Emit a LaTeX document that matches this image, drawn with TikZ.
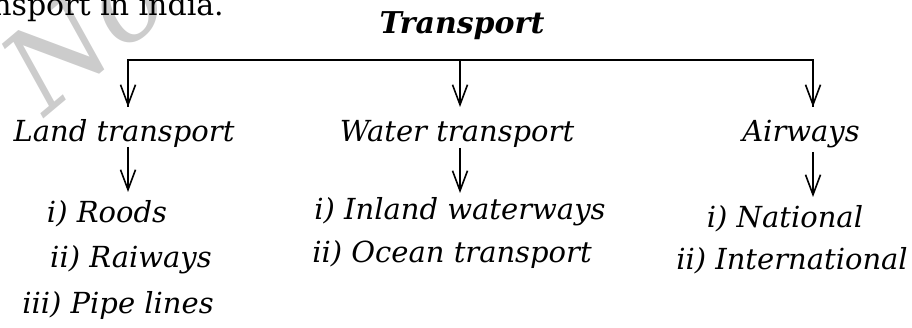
\documentclass[tikz,border=0pt]{standalone}
\usepackage{fontspec}
\usetikzlibrary{arrows.meta}
\setmainfont{DejaVu Serif}
\begin{document}
\begin{tikzpicture}[x=1pt,y=-1pt,
  lbl/.style={font=\fontsize{29}{32}\selectfont\itshape, inner sep=0pt, anchor=base},
  conn/.style={line width=1.6pt},
  vee/.style={line width=1.6pt, -{Straight Barb[length=20pt,width=15pt,line width=1.6pt]}}]
\useasboundingbox (0,0) rectangle (912,328);
\begin{scope}
\clip (0,0) rectangle (912,328);
% watermark
\node[text=black!20, font=\fontsize{115}{115}\selectfont\itshape, rotate=40, inner sep=0pt, anchor=base west] (wm) at (45,118) {No};
\node[font=\fontsize{30}{32}\selectfont, inner sep=0pt, anchor=base east] (intro) at (224,16) {ansport in india.};
\end{scope}
\node[font=\fontsize{30}{32}\selectfont\bfseries\itshape, inner sep=0pt, anchor=base] (root) at (462,34) {Transport};
\coordinate (hl) at (128,60);
\coordinate (hm) at (460,60);
\coordinate (hr) at (813,60);
\coordinate (tl) at (128,107);
\coordinate (tm) at (460,107);
\coordinate (tr) at (813,107);
\draw[conn] (tl) -- (hl) -- (hr) -- (tr);
\draw[vee] (hl) -- (tl);
\draw[vee] (hm) -- (tm);
\draw[vee] (hr) -- (tr);
\node[lbl] (land) at (124,142) {Land transport};
\node[lbl] (water) at (457,142) {Water transport};
\node[lbl] (air) at (801,142) {Airways};
\node[lbl] (l1) at (107,223) {i) Roods};
\node[lbl] (l2) at (131,268) {ii) Raiways};
\node[lbl] (l3) at (118,313) {iii) Pipe lines};
\node[lbl] (w1) at (460,220) {i) Inland waterways};
\node[lbl] (w2) at (452,263) {ii) Ocean transport};
\node[lbl] (a1) at (785,228) {i) National};
\node[lbl] (a2) at (792,270) {ii) International};
\coordinate (ls) at (128,147);
\coordinate (le) at (128,192);
\coordinate (ws) at (460,148);
\coordinate (we) at (460,193);
\coordinate (as) at (813,152);
\coordinate (ae) at (813,197);
\draw[vee] (ls) -- (le);
\draw[vee] (ws) -- (we);
\draw[vee] (as) -- (ae);
\end{tikzpicture}
\end{document}
